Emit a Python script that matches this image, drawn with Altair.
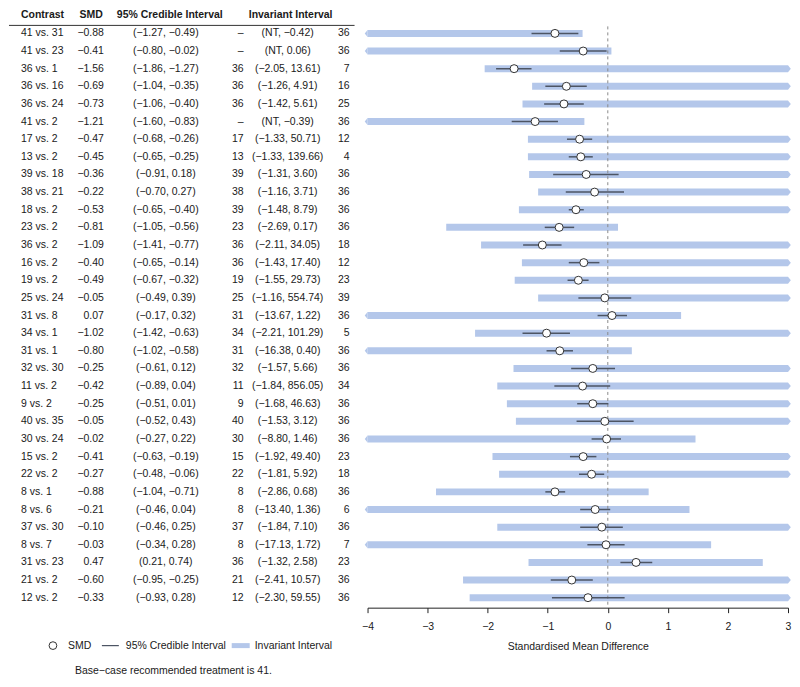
import altair as alt
import pandas as pd

# ---------------- data ----------------
contrast = ["41 vs. 31", "41 vs. 23", "36 vs. 1", "36 vs. 16", "36 vs. 24", "41 vs. 2",
            "17 vs. 2", "13 vs. 2", "39 vs. 18", "38 vs. 21", "18 vs. 2", "23 vs. 2",
            "36 vs. 2", "16 vs. 2", "19 vs. 2", "25 vs. 24", "31 vs. 8", "34 vs. 1",
            "31 vs. 1", "32 vs. 30", "11 vs. 2", "9 vs. 2", "40 vs. 35", "30 vs. 24",
            "15 vs. 2", "22 vs. 2", "8 vs. 1", "8 vs. 6", "37 vs. 30", "8 vs. 7",
            "31 vs. 23", "21 vs. 2", "12 vs. 2"]
smd = [-0.88, -0.41, -1.56, -0.69, -0.73, -1.21, -0.47, -0.45, -0.36, -0.22, -0.53, -0.81,
       -1.09, -0.40, -0.49, -0.05, 0.07, -1.02, -0.80, -0.25, -0.42, -0.25, -0.05, -0.02,
       -0.41, -0.27, -0.88, -0.21, -0.10, -0.03, 0.47, -0.60, -0.33]
cri_lo = [-1.27, -0.80, -1.86, -1.04, -1.06, -1.60, -0.68, -0.65, -0.91, -0.70, -0.65, -1.05,
          -1.41, -0.65, -0.67, -0.49, -0.17, -1.42, -1.02, -0.61, -0.89, -0.51, -0.52, -0.27,
          -0.63, -0.48, -1.04, -0.46, -0.46, -0.34, 0.21, -0.95, -0.93]
cri_hi = [-0.49, -0.02, -1.27, -0.35, -0.40, -0.83, -0.26, -0.25, 0.18, 0.27, -0.40, -0.56,
          -0.77, -0.14, -0.32, 0.39, 0.32, -0.63, -0.58, 0.12, 0.04, 0.01, 0.43, 0.22,
          -0.19, -0.06, -0.71, 0.04, 0.25, 0.28, 0.74, -0.25, 0.28]
inv_left = [None, None, 36, 36, 36, None, 17, 13, 39, 38, 39, 23,
            36, 36, 19, 25, 31, 34, 31, 32, 11, 9, 40, 30,
            15, 22, 8, 8, 37, 8, 36, 21, 12]
inv_lo = [None, None, -2.05, -1.26, -1.42, None, -1.33, -1.33, -1.31, -1.16, -1.48, -2.69,
          -2.11, -1.43, -1.55, -1.16, -13.67, -2.21, -16.38, -1.57, -1.84, -1.68, -1.53, -8.80,
          -1.92, -1.81, -2.86, -13.40, -1.84, -17.13, -1.32, -2.41, -2.30]
inv_hi = [-0.42, 0.06, 13.61, 4.91, 5.61, -0.39, 50.71, 139.66, 3.60, 3.71, 8.79, 0.17,
          34.05, 17.40, 29.73, 554.74, 1.22, 101.29, 0.40, 5.66, 856.05, 46.63, 3.12, 1.46,
          49.40, 5.92, 0.68, 1.36, 7.10, 1.72, 2.58, 10.57, 59.55]
inv_right = [36, 36, 7, 16, 25, 36, 12, 4, 36, 36, 36, 36,
             18, 12, 23, 39, 36, 5, 36, 36, 34, 36, 36, 36,
             23, 18, 36, 6, 36, 7, 23, 36, 36]

headers = ["Contrast", "SMD", "95% Credible Interval", "Invariant Interval"]
legend_labels = ["SMD", "95% Credible Interval", "Invariant Interval"]
footnote = "Base\u2212case recommended treatment is 41."
x_title = "Standardised Mean Difference"
x_ticks = [-4, -3, -2, -1, 0, 1, 2, 3]

XMIN, XMAX = -4, 3
FONT = "Liberation Sans"
FS = 10.5
TXT = "#1a1a1a"
BAR = "#b4c7ea"
LINE = "#4d5564"


def fmt(v):
    return f"{v:.2f}".replace("-", "\u2212")


rows = []
for i in range(len(contrast)):
    lo = inv_lo[i]
    hi = inv_hi[i]
    rows.append(dict(
        row=i,
        contrast=contrast[i],
        smd=smd[i],
        smd_txt=fmt(smd[i]),
        cri_lo=cri_lo[i],
        cri_hi=cri_hi[i],
        cri_txt=f"({fmt(cri_lo[i])}, {fmt(cri_hi[i])})",
        left_txt="\u2013" if inv_left[i] is None else str(inv_left[i]),
        inv_txt=f"({'NT' if lo is None else fmt(lo)}, {fmt(hi)})",
        right_txt=str(inv_right[i]),
        bar_lo=XMIN if (lo is None or lo < XMIN) else lo,
        bar_hi=min(hi, XMAX),
        arrow_left=(lo is None or lo < XMIN),
        arrow_right=(hi > XMAX),
    ))
df = pd.DataFrame(rows)

yscale = alt.Scale(domain=[0, len(contrast) - 1], range=[25, 590], nice=False, zero=False)
Y = alt.Y("row:Q", scale=yscale, axis=None)

TW, PW, H = 350, 421, 600

# ---------------- table ----------------
tbase = alt.Chart(df).encode(y=Y)
tprops = dict(fontSize=FS, font=FONT, color=TXT)
t_contrast = tbase.mark_text(align="left", **tprops).encode(x=alt.value(12), text="contrast:N")
t_smd = tbase.mark_text(align="right", **tprops).encode(x=alt.value(95), text="smd_txt:N")
t_cri = tbase.mark_text(align="center", **tprops).encode(x=alt.value(157), text="cri_txt:N")
t_left = tbase.mark_text(align="right", **tprops).encode(x=alt.value(235), text="left_txt:N")
t_inv = tbase.mark_text(align="center", **tprops).encode(x=alt.value(279), text="inv_txt:N")
t_right = tbase.mark_text(align="right", **tprops).encode(x=alt.value(341), text="right_txt:N")

one = pd.DataFrame({"k": [0]})
hprops = dict(fontSize=FS, font=FONT, color=TXT, fontWeight="bold")
h1 = alt.Chart(one).mark_text(align="left", text=headers[0], **hprops).encode(x=alt.value(12), y=alt.value(7))
h2 = alt.Chart(one).mark_text(align="right", text=headers[1], **hprops).encode(x=alt.value(94), y=alt.value(7))
h3 = alt.Chart(one).mark_text(align="center", text=headers[2], **hprops).encode(x=alt.value(161), y=alt.value(7))
h4 = alt.Chart(one).mark_text(align="center", text=headers[3], **hprops).encode(x=alt.value(282), y=alt.value(7))
hline = alt.Chart(one).mark_rule(color="#333", strokeWidth=1).encode(
    x=alt.value(0), x2=alt.value(346), y=alt.value(17))

LY = 638
lg_pt = alt.Chart(one).mark_point(shape="circle", filled=True, fill="white", stroke="#333",
                                  strokeWidth=1, size=60, opacity=1).encode(x=alt.value(44), y=alt.value(LY))
lg_t1 = alt.Chart(one).mark_text(align="left", text=legend_labels[0], **tprops).encode(x=alt.value(59), y=alt.value(LY))
lg_ln = alt.Chart(one).mark_rule(color=LINE, strokeWidth=1.2).encode(
    x=alt.value(93), x2=alt.value(110), y=alt.value(LY))
lg_t2 = alt.Chart(one).mark_text(align="left", text=legend_labels[1], **tprops).encode(x=alt.value(117), y=alt.value(LY))
lg_rc = alt.Chart(one).mark_rect(color=BAR).encode(
    x=alt.value(223), x2=alt.value(241), y=alt.value(LY - 2.5), y2=alt.value(LY + 2.5))
lg_t3 = alt.Chart(one).mark_text(align="left", text=legend_labels[2], **tprops).encode(x=alt.value(246), y=alt.value(LY))
fn = alt.Chart(one).mark_text(align="left", text=footnote, **tprops).encode(x=alt.value(66), y=alt.value(663))

table = alt.layer(t_contrast, t_smd, t_cri, t_left, t_inv, t_right, h1, h2, h3, h4, hline,
                  lg_pt, lg_t1, lg_ln, lg_t2, lg_rc, lg_t3, fn).properties(width=TW, height=H)

# ---------------- forest plot ----------------
xscale = alt.Scale(domain=[XMIN, XMAX], nice=False, zero=False)
xaxis = alt.Axis(values=x_ticks, grid=False, domainColor="#222", tickColor="#222", tickSize=5,
                 labelFontSize=FS, labelFont=FONT, labelColor=TXT, labelFlush=False, labelPadding=9,
                 titleFontSize=FS, titleFont=FONT, titleColor=TXT, titleFontWeight="normal",
                 titlePadding=9, format="d")

pbase = alt.Chart(df)
bars = pbase.mark_rule(strokeWidth=7, color=BAR, strokeCap="butt").encode(
    x=alt.X("bar_lo:Q", scale=xscale, axis=xaxis, title=x_title),
    x2="bar_hi:Q", y=Y)
arr_l = pbase.transform_filter("datum.arrow_left").mark_point(
    shape="M0,-1L-0.8,0L0,1Z", size=49, filled=True, color=BAR, opacity=1, strokeWidth=0
).encode(x=alt.X("bar_lo:Q", scale=xscale), y=Y)
arr_r = pbase.transform_filter("datum.arrow_right").mark_point(
    shape="M0,-1L0.8,0L0,1Z", size=49, filled=True, color=BAR, opacity=1, strokeWidth=0
).encode(x=alt.X("bar_hi:Q", scale=xscale), y=Y)
zero = alt.Chart(one).mark_rule(color="#8a8a8a", strokeDash=[3, 3], strokeWidth=1).encode(
    x=alt.datum(0, scale=xscale), y=alt.value(18), y2=alt.value(597))
cri = pbase.mark_rule(color=LINE, strokeWidth=1.5).encode(
    x=alt.X("cri_lo:Q", scale=xscale), x2="cri_hi:Q", y=Y)
pts = pbase.mark_point(shape="circle", filled=True, fill="white", stroke="#333", strokeWidth=1,
                       size=64, opacity=1).encode(x=alt.X("smd:Q", scale=xscale), y=Y)

plot = alt.layer(bars, arr_l, arr_r, zero, cri, pts).properties(width=PW, height=H)

chart = alt.hconcat(table, plot, spacing=9, bounds="flush", padding=0).configure(
    font=FONT).configure_view(stroke=None)

chart.save("out.html", embed_options={"renderer": "svg", "actions": False})
